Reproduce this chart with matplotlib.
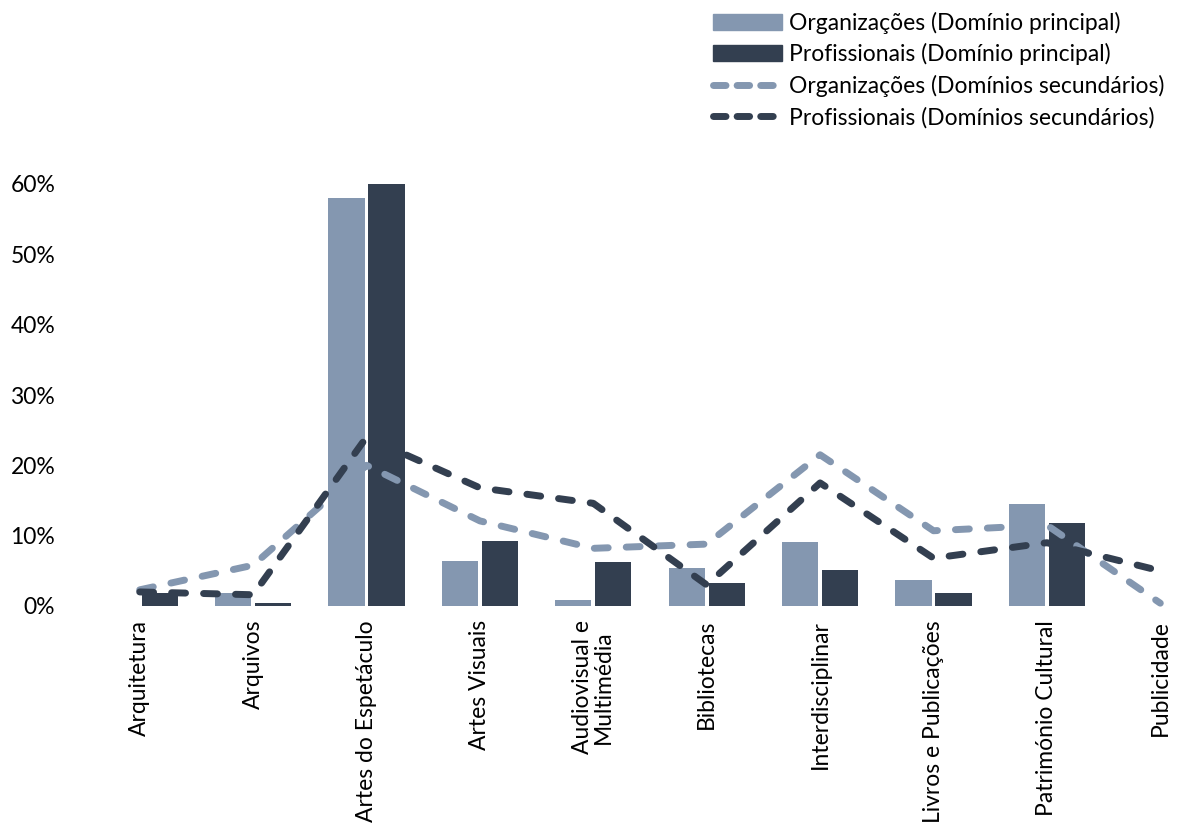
import numpy as np
import matplotlib.pyplot as plt
from matplotlib.patches import Patch
from matplotlib.lines import Line2D

# dados
categorias = ['Arquitetura', 'Arquivos', 'Artes do Espetáculo', 'Artes Visuais',
              'Audiovisual e\nMultimédia', 'Bibliotecas', 'Interdisciplinar',
              'Livros e Publicações', 'Património Cultural', 'Publicidade']
org_principal = [0.0, 1.8, 58.0, 6.4, 0.9, 5.4, 9.1, 3.7, 14.5, 0.0]
prof_principal = [1.8, 0.4, 60.0, 9.2, 6.3, 3.3, 5.1, 1.8, 11.8, 0.0]
org_secundarios = [2.3, 5.8, 20.0, 12.1, 8.2, 8.8, 21.5, 10.7, 11.5, 0.4]
prof_secundarios = [2.0, 1.6, 24.0, 16.8, 14.6, 3.0, 17.5, 6.8, 9.0, 5.0]

cor_clara = '#8497B0'
cor_escura = '#333F50'

plt.rcParams['font.family'] = ['Lato', 'DejaVu Sans']

fig = plt.figure(figsize=(11.84, 8.33), dpi=100)
ax = fig.add_axes([83 / 1184, (833 - 606) / 833, 1134 / 1184, 422 / 833])

x = np.arange(len(categorias))
w = 0.318
off = 0.1765
ax.bar(x - off, org_principal, w, color=cor_clara)
ax.bar(x + off, prof_principal, w, color=cor_escura)

estilo = dict(linewidth=5, linestyle=(0, (2.0, 2.6)), dash_capstyle='round',
              solid_joinstyle='round', clip_on=False)
ax.plot(x, org_secundarios, color=cor_clara, **estilo)
ax.plot(x, prof_secundarios, color=cor_escura, **estilo)

ax.set_xlim(-0.5, len(categorias) - 0.5)
ax.set_ylim(0, 60)
ax.set_yticks(range(0, 61, 10))
ax.set_yticklabels(['{}%'.format(v) for v in range(0, 61, 10)], fontsize=16.5)
ax.set_xticks(x)
ax.set_xticklabels(categorias, rotation=90, fontsize=16.5, va='top', ha='center',
                   linespacing=1.0)
ax.tick_params(length=0, pad=10)
ax.tick_params(axis='y', pad=20)
for s in ax.spines.values():
    s.set_visible(False)

handles = [Patch(color=cor_clara), Patch(color=cor_escura),
           Line2D([0], [0], color=cor_clara, linewidth=5, linestyle=(0, (1.8, 1.6)),
                  dash_capstyle='round'),
           Line2D([0], [0], color=cor_escura, linewidth=5, linestyle=(0, (1.8, 1.6)),
                  dash_capstyle='round')]
labels = ['Organizações (Domínio principal)', 'Profissionais (Domínio principal)',
          'Organizações (Domínios secundários)', 'Profissionais (Domínios secundários)']
fig.legend(handles, labels, loc='upper left', bbox_to_anchor=(702 / 1184, 1.0),
           frameon=False, fontsize=16.5, handlelength=3.0, handleheight=0.7,
           handletextpad=0.3, labelspacing=0.42, borderaxespad=0.1)

fig.savefig('out.png', dpi=100)
